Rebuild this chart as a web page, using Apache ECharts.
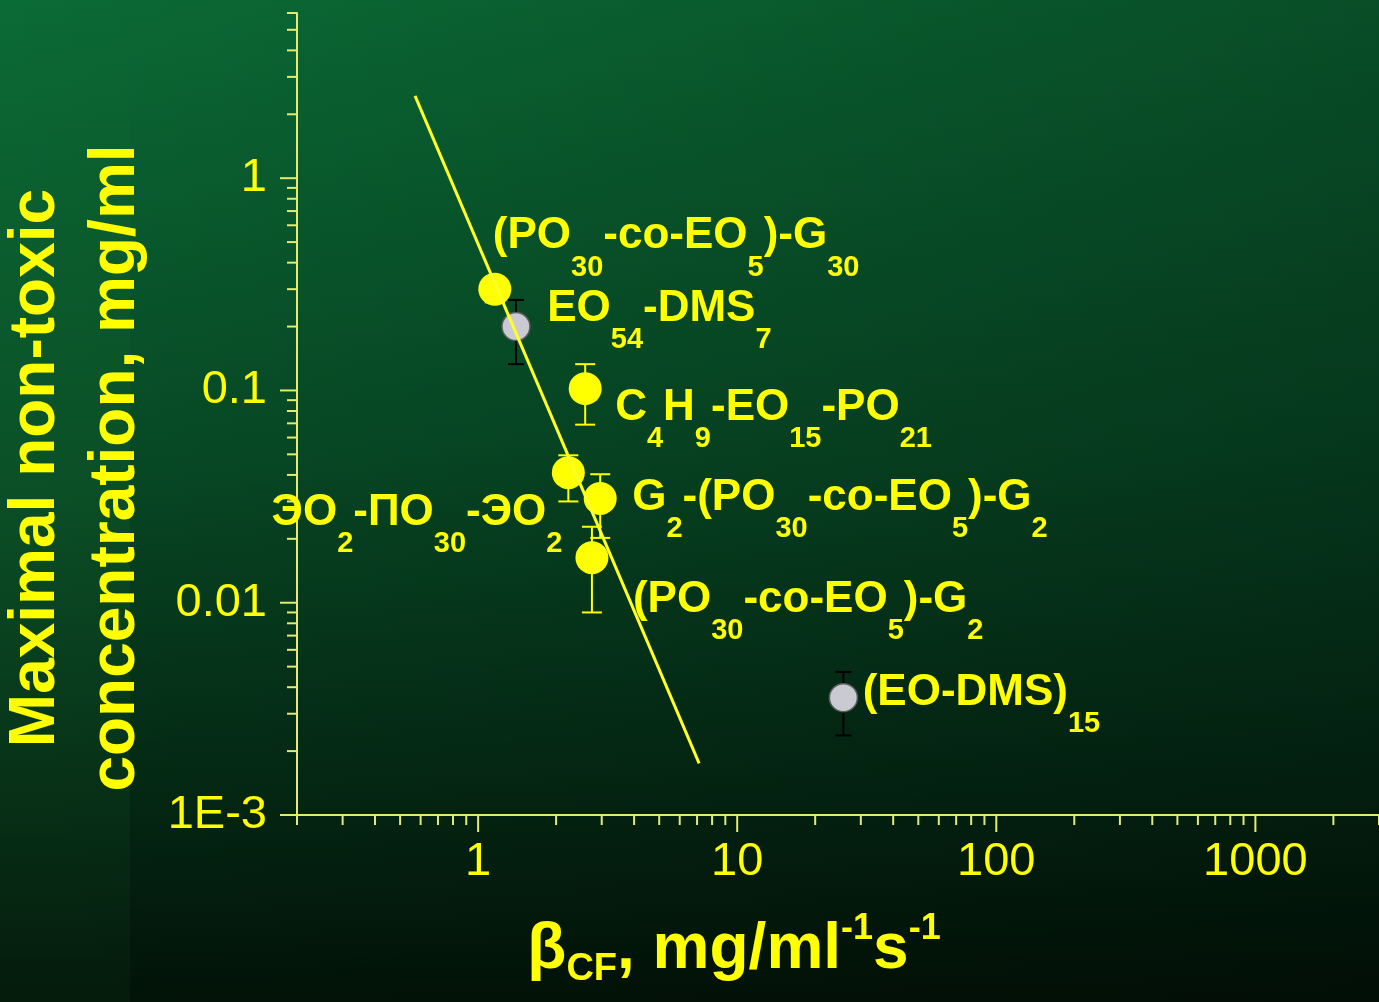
<!DOCTYPE html>
<html>
<head>
<meta charset="utf-8">
<script src="https://cdn.jsdelivr.net/npm/echarts@6/dist/echarts.min.js"></script>
<style>
html,body{margin:0;padding:0;background:#05401f;}
#chart{width:1379px;height:1002px;}
</style>
</head>
<body>
<div id="chart"></div>
<script>
// ---- data ----
const pointLabels = [
  '{m|(PO}{s|30}{m|-co-EO}{s|5}{m|)-G}{s|30}',
  '{m|EO}{s|54}{m|-DMS}{s|7}',
  '{m|C}{s|4}{m|H}{s|9}{m|-EO}{s|15}{m|-PO}{s|21}',
  '{m|ЭО}{s|2}{m|-ПО}{s|30}{m|-ЭО}{s|2}',
  '{m|G}{s|2}{m|-(PO}{s|30}{m|-co-EO}{s|5}{m|)-G}{s|2}',
  '{m|(PO}{s|30}{m|-co-EO}{s|5}{m|)-G}{s|2}',
  '{m|(EO-DMS)}{s|15}'
];
const pointGroup = ['yellow', 'gray', 'yellow', 'yellow', 'yellow', 'yellow', 'gray'];
const betaCF   = [1.16, 1.40, 2.59, 2.23, 2.96, 2.75, 25.7];
const maxConc  = [0.30, 0.20, 0.102, 0.041, 0.031, 0.0163, 0.00357];
const errLow   = [0.26, 0.133, 0.069, 0.030, 0.0202, 0.0090, 0.00237];
const errHigh  = [0.34, 0.267, 0.133, 0.0495, 0.0403, 0.0228, 0.00472];
const fitX = [0.571, 7.13];
const fitY = [2.44, 0.00175];
const xMajorTicks = [1, 10, 100, 1000];
const xMinorTicks = [0.2, 0.3, 0.4, 0.5, 0.6, 0.7, 0.8, 0.9,
                     2, 3, 4, 5, 6, 7, 8, 9,
                     20, 30, 40, 50, 60, 70, 80, 90,
                     200, 300, 400, 500, 600, 700, 800, 900,
                     2000, 3000];
const yMajorTicks = [0.001, 0.01, 0.1, 1];
const yMinorTicks = [0.002, 0.003, 0.004, 0.005, 0.006, 0.007, 0.008, 0.009,
                     0.02, 0.03, 0.04, 0.05, 0.06, 0.07, 0.08, 0.09,
                     0.2, 0.3, 0.4, 0.5, 0.6, 0.7, 0.8, 0.9,
                     2, 3, 4, 5, 6];
const xTickLabels = {'0': '1', '1': '10', '2': '100', '3': '1000'};
const yTickLabels = {'-3': '1E-3', '-2': '0.01', '-1': '0.1', '0': '1'};
const xAxisTitle = '{m|β}{sub|CF}{m|, mg/ml}{sup|-1}{m|s}{sup|-1}';
const yAxisTitle = 'Maximal non-toxic\nconcentration, mg/ml';

// ---- styles ----
const X_MIN = 0.2, X_MAX = 3000, Y_MIN = 0.001, Y_MAX = 6;
const YEL = '#ffff00';
const AXIS_COL = '#e4ec70';
const FONT = '"Liberation Sans", Arial, Helvetica, sans-serif';
// label placement: [dx, dy, align] of text anchor relative to point centre
const labelPlace = [[-2, -53, 'left'], [32, -17, 'left'], [30, 19, 'left'], [-6, 40, 'right'],
                    [32, -1, 'left'], [41, 42, 'left'], [20, -4, 'left']];
const groupStyle = {
  yellow: {size: 33, fill: YEL, border: YEL, bw: 0, err: YEL, cap: 20},
  gray:   {size: 28, fill: '#cacad2', border: '#5c5c5c', bw: 1.5, err: '#000000', cap: 16}
};
const labelRich = {
  m: {fontSize: 44, fontWeight: 'bold', fontFamily: FONT, color: YEL, lineHeight: 92},
  s: {fontSize: 29, fontWeight: 'bold', fontFamily: FONT, color: YEL, lineHeight: 30, verticalAlign: 'bottom'}
};

function scatterSeries(group) {
  const g = groupStyle[group];
  const data = [];
  betaCF.forEach((x, i) => {
    if (pointGroup[i] !== group) return;
    const p = labelPlace[i];
    data.push({
      value: [x, maxConc[i]],
      label: {
        show: true, formatter: pointLabels[i], rich: labelRich,
        position: [g.size / 2 + p[0], g.size / 2 + p[1]],
        align: p[2], verticalAlign: 'middle'
      }
    });
  });
  return {
    type: 'scatter', name: group, data: data, symbol: 'circle', symbolSize: g.size, z: 4,
    itemStyle: {color: g.fill, borderColor: g.border, borderWidth: g.bw, opacity: 1},
    emphasis: {disabled: true}
  };
}

function errorSeries(group) {
  const g = groupStyle[group];
  const data = [];
  betaCF.forEach((x, i) => { if (pointGroup[i] === group) data.push([x, errLow[i], errHigh[i]]); });
  return {
    type: 'custom', name: group + ' error', coordinateSystem: 'cartesian2d', silent: true, z: 3,
    data: data, encode: {x: 0, y: [1, 2]},
    renderItem: function (params, api) {
      const lo = api.coord([api.value(0), api.value(1)]);
      const hi = api.coord([api.value(0), api.value(2)]);
      const h = g.cap / 2;
      const st = {stroke: g.err, lineWidth: 2};
      return {type: 'group', children: [
        {type: 'line', shape: {x1: lo[0], y1: lo[1], x2: hi[0], y2: hi[1]}, style: st},
        {type: 'line', shape: {x1: lo[0] - h, y1: lo[1], x2: lo[0] + h, y2: lo[1]}, style: st},
        {type: 'line', shape: {x1: hi[0] - h, y1: hi[1], x2: hi[0] + h, y2: hi[1]}, style: st}
      ]};
    }
  };
}

function tickSeries(values, axis, len) {
  return {
    type: 'custom', coordinateSystem: 'cartesian2d', silent: true, clip: false, z: 2,
    data: values.map(v => axis === 'x' ? [v, Y_MIN] : [X_MIN, v]),
    renderItem: function (params, api) {
      const p = api.coord([api.value(0), api.value(1)]);
      const shape = axis === 'x'
        ? {x1: p[0], y1: p[1], x2: p[0], y2: p[1] + len}
        : {x1: p[0], y1: p[1], x2: p[0] - len, y2: p[1]};
      return {type: 'line', shape: shape, style: {stroke: AXIS_COL, lineWidth: 2}};
    }
  };
}

function logLabel(map) {
  return function (v) {
    const e = Math.log10(v);
    const r = Math.round(e);
    if (Math.abs(e - r) < 1e-6 && map[String(r)] !== undefined) return map[String(r)];
    return '';
  };
}

const chart = echarts.init(document.getElementById('chart'), null, {renderer: 'canvas'});
chart.setOption({
  animation: false,
  backgroundColor: new echarts.graphic.LinearGradient(0, 0, 0, 1, [
    {offset: 0, color: '#0b6b36'},
    {offset: 0.45, color: '#074b26'},
    {offset: 1, color: '#021308'}
  ]),
  graphic: [
    {type: 'rect', silent: true, z: -10, shape: {x: 0, y: 0, width: 1379, height: 1002},
     style: {fill: new echarts.graphic.LinearGradient(0, 0, 1, 0, [
       {offset: 0, color: 'rgba(0,0,0,0)'}, {offset: 1, color: 'rgba(0,0,0,0.28)'}])}},
    {type: 'rect', silent: true, z: -9, shape: {x: 0, y: 0, width: 130, height: 1002},
     style: {fill: new echarts.graphic.LinearGradient(0, 0, 0, 1, [
       {offset: 0, color: 'rgba(40,140,60,0.0)'}, {offset: 0.5, color: 'rgba(40,140,60,0.12)'},
       {offset: 1, color: 'rgba(40,140,60,0.06)'}])}}
  ],
  grid: {left: 297, right: 0, top: 13, bottom: 187, containLabel: false, outerBoundsMode: 'none'},
  xAxis: {
    type: 'log', logBase: 10, min: X_MIN, max: X_MAX,
    axisLine: {show: true, lineStyle: {color: AXIS_COL, width: 2}},
    axisTick: {show: false}, splitLine: {show: false}, minorTick: {show: false},
    axisLabel: {formatter: logLabel(xTickLabels), color: YEL, fontSize: 47, fontFamily: FONT, margin: 24,
                showMinLabel: true, showMaxLabel: true},
    name: xAxisTitle, nameLocation: 'middle', nameGap: 96,
    nameTextStyle: {
      padding: [0, 208, 0, 0],
      rich: {
        m: {fontSize: 64, fontWeight: 'bold', fontFamily: FONT, color: YEL, lineHeight: 78},
        sup: {fontSize: 36, fontWeight: 'bold', fontFamily: FONT, color: YEL, lineHeight: 36, verticalAlign: 'top'},
        sub: {fontSize: 38, fontWeight: 'bold', fontFamily: FONT, color: YEL, lineHeight: 10, verticalAlign: 'bottom'}
      }
    }
  },
  yAxis: {
    type: 'log', logBase: 10, min: Y_MIN, max: Y_MAX,
    axisLine: {show: true, lineStyle: {color: AXIS_COL, width: 2}},
    axisTick: {show: false}, splitLine: {show: false}, minorTick: {show: false},
    axisLabel: {formatter: logLabel(yTickLabels), color: YEL, fontSize: 47, fontFamily: FONT, margin: 30},
    name: yAxisTitle, nameLocation: 'middle', nameRotate: 90, nameGap: 136,
    nameTextStyle: {fontSize: 64, fontWeight: 'bold', fontFamily: FONT, color: YEL, lineHeight: 80,
                    padding: [0, 108, 0, 0]}
  },
  series: [
    tickSeries(xMajorTicks, 'x', 17),
    tickSeries(xMinorTicks, 'x', 10),
    tickSeries(yMajorTicks, 'y', 17),
    tickSeries(yMinorTicks, 'y', 10),
    errorSeries('yellow'),
    errorSeries('gray'),
    scatterSeries('yellow'),
    scatterSeries('gray'),
    {
      type: 'line', name: 'fit', data: fitX.map((x, i) => [x, fitY[i]]), symbol: 'none', z: 5,
      silent: true, lineStyle: {color: '#ffff28', width: 3}
    }
  ]
});
</script>
</body>
</html>
